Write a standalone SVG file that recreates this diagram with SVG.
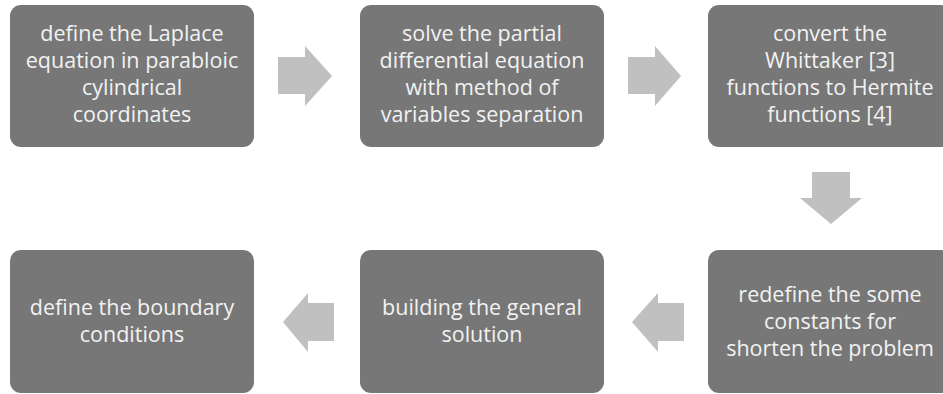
<svg xmlns="http://www.w3.org/2000/svg" width="943" height="394" viewBox="0 0 943 394">
  <style>
    .box { fill: #777777; }
    .lbl { font-family: "Open Sans", "Liberation Sans", sans-serif; font-size: 21.5px; fill: #f2f2f2; text-anchor: middle; }
    .arrow { fill: #c0c0c0; }
  </style>
  <rect width="943" height="394" fill="#ffffff"/>

  <g id="connectors">
    <!-- top row, pointing right -->
    <polygon class="arrow" points="278,57 305,57 305,46 332,76 305,106 305,94 278,94"/>
    <polygon class="arrow" points="628,57 655,57 655,46 681,76 655,106 655,94 628,94"/>
    <!-- right column, pointing down -->
    <polygon class="arrow" points="812,172 850,172 850,198 862,198 831,224 800,198 812,198"/>
    <!-- bottom row, pointing left -->
    <polygon class="arrow" points="334,303 308,303 308,293 283,322 308,352 308,341 334,341"/>
    <polygon class="arrow" points="684,303 658,303 658,293 632,322 658,352 658,341 684,341"/>
  </g>

  <g id="step1">
    <rect class="box" x="10" y="5" width="244" height="142" rx="11"/>
    <text class="lbl" x="132" y="41">define the Laplace</text>
    <text class="lbl" x="132" y="68">equation in parabloic</text>
    <text class="lbl" x="132" y="95">cylindrical</text>
    <text class="lbl" x="132" y="122">coordinates</text>
  </g>

  <g id="step2">
    <rect class="box" x="360" y="5" width="244" height="142" rx="11"/>
    <text class="lbl" x="482" y="41">solve the partial</text>
    <text class="lbl" x="482" y="68">differential equation</text>
    <text class="lbl" x="482" y="95">with method of</text>
    <text class="lbl" x="482" y="122">variables separation</text>
  </g>

  <g id="step3">
    <rect class="box" x="708" y="5" width="244" height="142" rx="11"/>
    <text class="lbl" x="830" y="41">convert the</text>
    <text class="lbl" x="830" y="68">Whittaker [3]</text>
    <text class="lbl" x="830" y="95">functions to Hermite</text>
    <text class="lbl" x="830" y="122">functions [4]</text>
  </g>

  <g id="step4">
    <rect class="box" x="708" y="250" width="244" height="143" rx="11"/>
    <text class="lbl" x="830" y="302">redefine the some</text>
    <text class="lbl" x="830" y="329">constants for</text>
    <text class="lbl" x="830" y="356">shorten the problem</text>
  </g>

  <g id="step5">
    <rect class="box" x="360" y="250" width="244" height="143" rx="11"/>
    <text class="lbl" x="482" y="315">building the general</text>
    <text class="lbl" x="482" y="342">solution</text>
  </g>

  <g id="step6">
    <rect class="box" x="10" y="250" width="244" height="143" rx="11"/>
    <text class="lbl" x="132" y="315">define the boundary</text>
    <text class="lbl" x="132" y="342">conditions</text>
  </g>
</svg>
